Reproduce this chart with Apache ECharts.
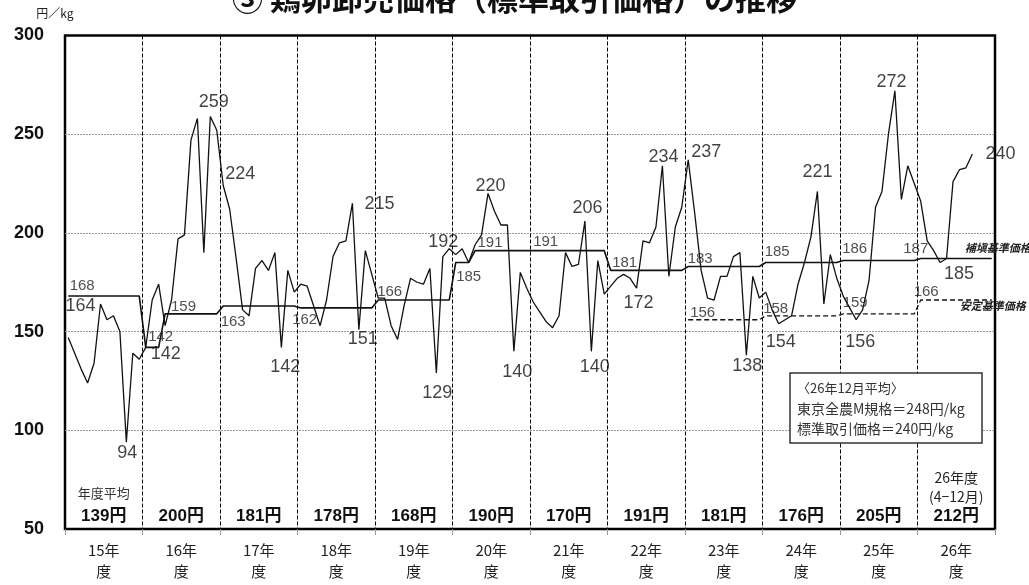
<!DOCTYPE html>
<html><head><meta charset="utf-8">
<script src="https://cdn.jsdelivr.net/npm/echarts@6/dist/echarts.min.js"></script>
<style>html,body{margin:0;padding:0;background:#fff}#c{width:1029px;height:585px}</style>
</head><body><div id="c"></div>
<script>
// ---- data ----
const fiscalYears = ['15','16','17','18','19','20','21','22','23','24','25','26'];
const monthNames = ['4月','5月','6月','7月','8月','9月','10月','11月','12月','1月','2月','3月'];
const yearAxisLabels = ['15年\n度','16年\n度','17年\n度','18年\n度','19年\n度','20年\n度','21年\n度','22年\n度','23年\n度','24年\n度','25年\n度','26年\n度'];
const yearAverages = ['139円','200円','181円','178円','168円','190円','170円','191円','181円','176円','205円','212円'];
const yearNotes = {0: ['年度平均'], 11: ['26年度', '(4−12月)']};

// 標準取引価格 (円/kg), monthly, 15年度4月 – 26年度12月
const prices = [
  147,139,131,124,134,164,156,158,150, 94,139,136,
  142,166,174,153,166,197,199,247,258,190,259,252,
  224,212,187,161,158,182,186,181,190,142,181,170,
  174,173,163,153,166,188,195,196,215,151,191,179,
  167,167,153,146,163,177,175,174,182,129,188,192,
  189,192,185,194,199,220,211,204,204,140,180,172,
  165,160,155,152,158,190,183,184,206,140,186,169,
  173,177,179,177,172,196,195,203,234,178,203,213,
  237,210,181,167,166,178,178,188,190,138,178,167,
  170,161,154,156,158,174,185,198,221,164,189,177,
  168,162,156,161,176,213,221,250,272,217,234,225,
  216,196,191,185,187,226,232,233,240
];
// 補塡基準価格
const supportPrice = [
  168,168,168,168,168,168,168,168,168,168,168,168,
  142,142,142,159,159,159,159,159,159,159,159,159,
  163,163,163,163,163,163,163,163,163,163,163,163,
  162,162,162,162,162,162,162,162,162,162,162,162,
  166,166,166,166,166,166,166,166,166,166,166,166,
  185,185,185,191,191,191,191,191,191,191,191,191,
  191,191,191,191,191,191,191,191,191,191,191,191,
  181,181,181,181,181,181,181,181,181,181,181,181,
  183,183,183,183,183,183,183,183,183,183,183,183,
  185,185,185,185,185,185,185,185,185,185,185,185,
  186,186,186,186,186,186,186,186,186,186,186,186,
  187,187,187,187,187,187,187,187,187,187,187,187
];
// 安定基準価格 (from 23年度)
const stablePrice = [
  null,null,null,null,null,null,null,null,null,null,null,null,
  null,null,null,null,null,null,null,null,null,null,null,null,
  null,null,null,null,null,null,null,null,null,null,null,null,
  null,null,null,null,null,null,null,null,null,null,null,null,
  null,null,null,null,null,null,null,null,null,null,null,null,
  null,null,null,null,null,null,null,null,null,null,null,null,
  null,null,null,null,null,null,null,null,null,null,null,null,
  null,null,null,null,null,null,null,null,null,null,null,null,
  156,156,156,156,156,156,156,156,156,156,156,156,
  158,158,158,158,158,158,158,158,158,158,158,158,
  159,159,159,159,159,159,159,159,159,159,159,159,
  166,166,166,166,166,166,166,166,166,166,166,166
];
const noteLines = ['〈26年12月平均〉', '東京全農M規格＝248円/kg', '標準取引価格＝240円/kg'];

// which points get value labels (indices) and label placement (pixels)
const priceLabelIdx    = [5, 9, 12, 22, 24, 33, 44, 45, 57, 59, 65, 69, 80, 81, 88, 92, 96, 105, 110, 116, 122, 128, 135, 140];
const priceLabelOffset = [[-20,2.5],[1,11],[20,7],[3.5,-14.5],[17,-11],[4,20],[27,1],[4,9],[1,20],[-6,-7],[2.5,-7],[3.5,21],[2.5,-13],[3.5,16],[2,15],[1,-9],[18,-8],[1,11],[2,18],[0,-19],[4,22],[-3.5,-9],[19,12],[28,0]];
const supportLabelIdx    = [2, 14, 18, 26, 37, 50, 62, 65, 74, 86, 98, 110, 122, 132];
const supportLabelOffset = [[1,-10.5],[2,-11],[-1,-7],[-3,15.5],[-2.5,11.5],[-1.5,-8.5],[0,14],[2,-8],[-0.5,-9],[1,-8],[-1,-8],[-1.5,-11],[-1.5,-12],[-5,-10]];
const stableLabelIdx    = [98, 110, 122, 133];
const stableLabelOffset = [[1.5,-7],[-3,-7],[-1,-11],[-1,-8.5]];

const monthCategories = fiscalYears.flatMap(y => monthNames.map(m => y + '年度' + m));

const LAT = "'Liberation Sans','Noto Sans CJK JP',sans-serif";
const JP = "'Noto Sans CJK JP',sans-serif";

function labelPoints(arr, idx, offs) {
  return idx.map((i, k) => ({ value: [i, arr[i]], label: { offset: offs[k] } }));
}

const chart = echarts.init(document.getElementById('c'), null, { renderer: 'canvas' });
chart.setOption({
  animation: false,
  backgroundColor: '#fff',
  grid: { left: 65, right: 34, top: 35.5, bottom: 56, show: true, borderColor: '#000', borderWidth: 2.5, backgroundColor: 'transparent' },
  graphic: [
    { type: 'text', x: 514.5, y: -2, style: { text: '③ 鶏卵卸売価格（標準取引価格）の推移', font: "bold 31px 'Noto Sans CJK JP'", fill: '#111', textAlign: 'center', textVerticalAlign: 'middle' } },
    { type: 'text', x: 55, y: 13, style: { text: '円／kg', font: "12px 'Noto Sans CJK JP'", fill: '#222', textAlign: 'center', textVerticalAlign: 'middle' } },
    { type: 'rect', z: 10, shape: { x: 790, y: 373, width: 192, height: 70 }, style: { fill: '#fff', stroke: '#333', lineWidth: 1.5 } },
    { type: 'text', z: 11, x: 797, y: 388, style: { text: noteLines[0], font: "13px 'Noto Sans CJK JP'", fill: '#333', textVerticalAlign: 'middle' } },
    { type: 'text', z: 11, x: 797, y: 409, style: { text: noteLines[1], font: "14px 'Noto Sans CJK JP'", fill: '#333', textVerticalAlign: 'middle' } },
    { type: 'text', z: 11, x: 797, y: 429, style: { text: noteLines[2], font: "14px 'Noto Sans CJK JP'", fill: '#333', textVerticalAlign: 'middle' } }
  ],
  xAxis: [
    { type: 'category', data: monthCategories, boundaryGap: true, show: false, gridIndex: 0 },
    {
      type: 'category', data: yearAxisLabels, boundaryGap: true, position: 'bottom', gridIndex: 0,
      axisLine: { show: false },
      axisTick: { show: true, length: 6, lineStyle: { color: '#999', width: 1 } },
      axisLabel: { margin: 11, fontSize: 15, lineHeight: 21, color: '#222', fontFamily: JP, interval: 0 },
      splitLine: { show: true, showMinLine: false, showMaxLine: false, lineStyle: { color: '#000', width: 1, type: [4, 2] } }
    },
    {
      type: 'category', data: yearAverages, boundaryGap: true, position: 'bottom', gridIndex: 0,
      axisLine: { show: false }, axisTick: { show: false }, splitLine: { show: false },
      axisLabel: {
        inside: true, margin: 3, interval: 0,
        formatter: (v, i) => {
          const notes = yearNotes[i];
          if (!notes) return '{b|' + v + '}';
          const st = i === 0 ? 'n' : 's';
          return notes.map(t => '{' + st + '|' + t + '}').join('\n') + '\n{b|' + v + '}';
        },
        rich: {
          b: { fontSize: 17, fontWeight: 'bold', lineHeight: 20, color: '#111', fontFamily: LAT },
          n: { fontSize: 13, lineHeight: 26, color: '#333', fontFamily: JP },
          s: { fontSize: 14, lineHeight: 19, color: '#222', fontFamily: JP }
        }
      }
    }
  ],
  yAxis: {
    type: 'value', min: 50, max: 300, interval: 50,
    axisLine: { show: false }, axisTick: { show: false },
    axisLabel: { fontSize: 18, fontWeight: 'bold', color: '#111', margin: 21, fontFamily: LAT },
    splitLine: { show: true, showMinLine: false, showMaxLine: false, lineStyle: { color: '#999', width: 1, type: [2, 1] } }
  },
  series: [
    {
      name: '補塡基準価格', type: 'line', xAxisIndex: 0, data: supportPrice, symbol: 'none',
      lineStyle: { color: '#111', width: 1.6 }, z: 3,
      endLabel: { show: true, formatter: '補塡基準価格', offset: [-35, -11], fontSize: 11, fontStyle: 'italic', fontWeight: 'bold', color: '#222', fontFamily: JP, align: 'left', verticalAlign: 'middle' }
    },
    {
      name: '安定基準価格', type: 'line', xAxisIndex: 0, data: stablePrice, symbol: 'none',
      lineStyle: { color: '#111', width: 1.3, type: [5, 3] }, z: 3,
      endLabel: { show: true, formatter: '安定基準価格', offset: [-40, 6], fontSize: 11, fontStyle: 'italic', fontWeight: 'bold', color: '#222', fontFamily: JP, align: 'left', verticalAlign: 'middle' }
    },
    {
      name: '標準取引価格', type: 'line', xAxisIndex: 0, data: prices, symbol: 'none',
      lineStyle: { color: '#111', width: 1.3 }, z: 4
    },
    {
      type: 'scatter', xAxisIndex: 0, symbolSize: 1, itemStyle: { color: 'transparent' }, z: 5,
      data: labelPoints(prices, priceLabelIdx, priceLabelOffset),
      label: { show: true, position: 'inside', formatter: p => String(p.value[1]), fontSize: 18, color: '#111', fontFamily: LAT }
    },
    {
      type: 'scatter', xAxisIndex: 0, symbolSize: 1, itemStyle: { color: 'transparent' }, z: 5,
      data: labelPoints(supportPrice, supportLabelIdx, supportLabelOffset).concat(labelPoints(stablePrice, stableLabelIdx, stableLabelOffset)),
      label: { show: true, position: 'inside', formatter: p => String(p.value[1]), fontSize: 15, color: '#222', fontFamily: LAT }
    }
  ]
});
</script></body></html>
